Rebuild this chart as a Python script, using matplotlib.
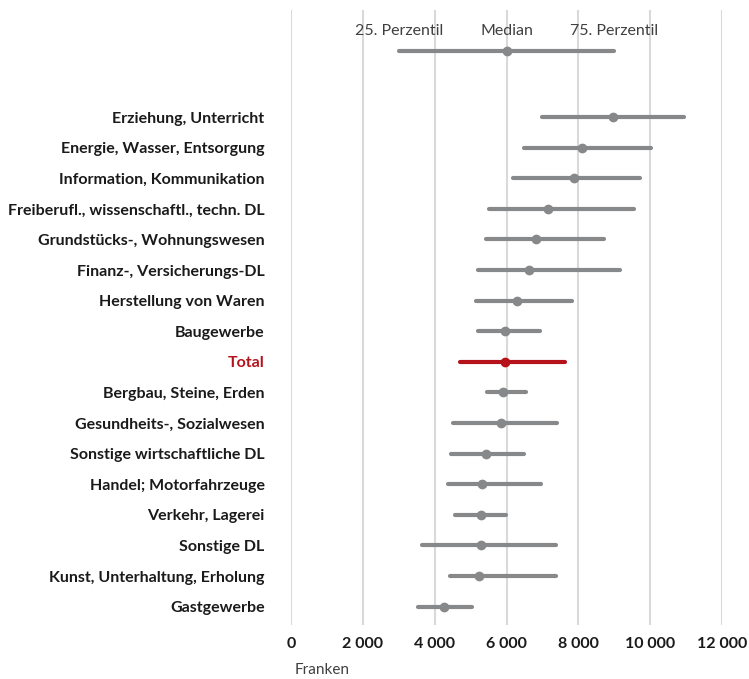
import matplotlib.pyplot as plt

# Branchen, von oben nach unten
branchen = ["Erziehung, Unterricht", "Energie, Wasser, Entsorgung",
            "Information, Kommunikation", "Freiberufl., wissenschaftl., techn. DL",
            "Grundstücks-, Wohnungswesen", "Finanz-, Versicherungs-DL",
            "Herstellung von Waren", "Baugewerbe", "Total",
            "Bergbau, Steine, Erden", "Gesundheits-, Sozialwesen",
            "Sonstige wirtschaftliche DL", "Handel; Motorfahrzeuge",
            "Verkehr, Lagerei", "Sonstige DL", "Kunst, Unterhaltung, Erholung",
            "Gastgewerbe"]
p25 = [7000, 6490, 6175, 5507, 5432, 5209, 5145, 5200, 4717,
       5469, 4513, 4457, 4373, 4577, 3649, 4429, 3547]
median = [8960, 8106, 7875, 7150, 6815, 6639, 6287, 5970, 5952,
          5905, 5859, 5422, 5320, 5302, 5302, 5246, 4262]
p75 = [10950, 10036, 9713, 9554, 8710, 9173, 7827, 6945, 7641,
       6537, 7400, 6500, 6973, 5999, 7382, 7382, 5042]

# Legendenzeile oben
leg_werte = [3000, 6000, 9000]
leg_texte = ["25. Perzentil", "Median", "75. Perzentil"]

grau = "#87888a"
rot = "#b5121b"
plt.rcParams['font.family'] = ['Lato', 'DejaVu Sans']

fig = plt.figure(figsize=(7.49, 6.79), dpi=100)
ax = fig.add_axes([291/749, 1-625/679, (722-291)/749, 615/679])

for i in range(len(branchen)):
    farbe = rot if branchen[i] == "Total" else grau
    ax.plot([p25[i], p75[i]], [i, i], color=farbe, lw=3, solid_capstyle='round', zorder=3)
    ax.plot(median[i], i, 'o', color=farbe, ms=6, zorder=4)

# Legende
y_leg = -2.15
ax.plot([leg_werte[0], leg_werte[2]], [y_leg, y_leg], color=grau, lw=3, solid_capstyle='round', zorder=3)
ax.plot(leg_werte[1], y_leg, 'o', color=grau, ms=6, zorder=4)
for w, t in zip(leg_werte, leg_texte):
    ax.text(w, y_leg - 0.65, t, ha='center', va='center', fontsize=11.5, color="#404040")

ax.set_xlim(0, 12000)
ax.set_ylim(16.6, -3.5)
ax.set_xticks(range(0, 12001, 2000))
ax.set_xticklabels([f"{v:,}".replace(",", " ") for v in range(0, 12001, 2000)],
                   fontsize=11.5, fontweight='bold', color="#1a1a1a")
ax.set_yticks(range(len(branchen)))
ax.set_yticklabels(branchen, fontsize=11.5, fontweight='bold', color="#1a1a1a")
ax.get_yticklabels()[branchen.index("Total")].set_color(rot)
ax.tick_params(length=0)
ax.tick_params(axis='x', pad=9)
ax.tick_params(axis='y', pad=19)
ax.grid(axis='x', color="#d9d9d9", lw=1.5)
ax.set_axisbelow(True)
for s in ax.spines.values():
    s.set_visible(False)

fig.text(295/749, 1-670/679, "Franken", fontsize=11, color="#404040", va='center')

fig.savefig("out.png", dpi=100)
